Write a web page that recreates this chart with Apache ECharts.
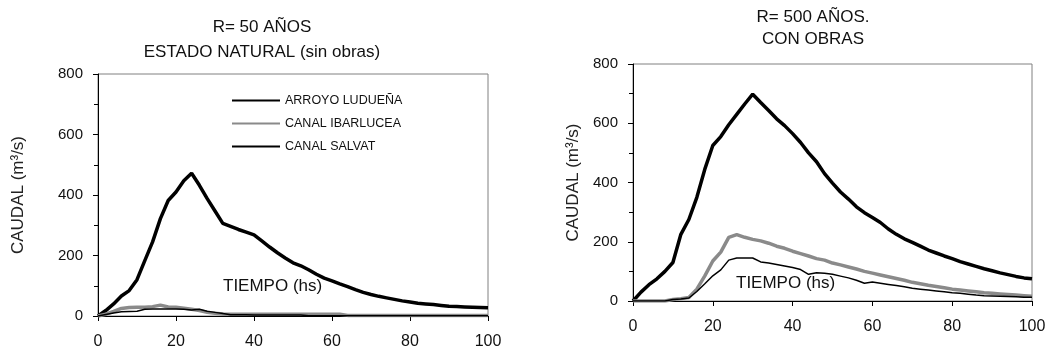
<!DOCTYPE html>
<html>
<head>
<meta charset="utf-8">
<script src="https://cdn.jsdelivr.net/npm/echarts@6/dist/echarts.min.js"></script>
<style>
  html, body { margin: 0; padding: 0; background: #fff; }
  #chart { width: 1051px; height: 352px; }
</style>
</head>
<body>
<div id="chart"></div>
<script>
// horas (eje x), cada 2 hs
var horas = [0,2,4,6,8,10,12,14,16,18,20,22,24,26,28,30,32,34,36,38,40,42,44,46,48,50,
  52,54,56,58,60,62,64,66,68,70,72,74,76,78,80,82,84,86,88,90,92,94,96,98,100];

var nombres = ['ARROYO LUDUEÑA', 'CANAL IBARLUCEA', 'CANAL SALVAT'];
var xTicks = [0, 20, 40, 60, 80, 100];
var yTicks = [0, 200, 400, 600, 800];

// R = 50 años, estado natural
var luduena50 = [0,18,40,66,84,120,183,245,322,382,410,447,472,432,388,347,306,296,286,277,268,
  248,228,209,192,176,166,153,138,125,116,106,97,87,78,71,65,60,55,50,46,42,40,38,35,32,31,30,29,28,27];
var ibarlucea50 = [0,6,15,25,28,29,29,31,36,30,29,26,22,18,12,9,7,6,6,6,6,6,6,6,6,6,
  6,6,6,6,6,6,2,2,2,2,2,2,2,2,2,2,2,2,2,2,2,2,2,2,2];
var salvat50 = [0,5,10,14,15,16,22,23,23,23,23,22,20,22,16,12,8,4,4,4,3,3,3,3,3,3,
  3,1,1,1,1,1,1,1,1,1,1,1,1,1,1,1,1,1,1,1,1,1,1,1,1];

// R = 500 años, con obras
var luduena500 = [0,30,55,75,100,130,225,275,350,445,525,555,595,630,665,698,670,643,615,592,565,
  535,500,470,430,398,368,344,318,298,282,265,243,225,210,198,185,172,162,152,143,133,125,117,109,102,95,89,83,78,75];
var ibarlucea500 = [0,0,0,0,0,5,8,12,40,85,135,165,215,224,215,208,203,195,185,178,168,
  160,152,143,138,128,122,115,108,100,94,88,82,76,70,63,58,53,49,45,40,37,34,31,28,26,24,22,20,18,16];
var salvat500 = [0,0,0,0,0,5,7,10,32,58,85,105,138,145,145,145,132,128,123,118,113,
  106,90,95,94,90,84,78,70,60,64,60,56,52,48,43,40,37,34,31,28,26,23,20,18,17,16,15,14,13,13];

function pares(vals) {
  return horas.map(function (h, i) { return [h, vals[i]]; });
}

var negro = '#000';
var gris = '#8a8a8a';
var fuente = 'Liberation Sans, Arial, sans-serif';

function ejeX(idx) {
  return {
    type: 'value', gridIndex: idx, min: 0, max: 100, interval: 20,
    axisLine: { lineStyle: { color: '#000', width: 1 } },
    axisTick: { show: true, length: 5, lineStyle: { color: '#000' } },
    axisLabel: { color: '#111', fontSize: 16, fontFamily: fuente, margin: 18,
      customValues: xTicks },
    splitLine: { show: false }
  };
}

function ejeY(idx, gap) {
  return {
    type: 'value', gridIndex: idx, min: 0, max: 800, interval: 200,
    name: 'CAUDAL (m³/s)', nameLocation: 'middle', nameGap: gap, nameRotate: 90,
    nameTextStyle: { fontSize: 17, color: '#222', fontFamily: fuente },
    axisLine: { show: true, lineStyle: { color: '#000', width: 1 } },
    axisTick: { show: true, length: 5, lineStyle: { color: '#000' } },
    minorTick: { show: true, splitNumber: 2, length: 4, lineStyle: { color: '#000' } },
    axisLabel: { color: '#111', fontSize: 15, fontFamily: fuente, margin: 15,
      customValues: yTicks },
    splitLine: { show: false }
  };
}

function serie(nombre, idx, vals, color, ancho) {
  return {
    name: nombre, type: 'line', xAxisIndex: idx, yAxisIndex: idx,
    data: pares(vals), showSymbol: false, symbol: 'none',
    lineStyle: { color: color, width: ancho }, itemStyle: { color: color },
    z: ancho > 2 ? 3 : 4
  };
}

var chart = echarts.init(document.getElementById('chart'));
chart.setOption({
  animation: false,
  textStyle: { fontFamily: fuente },
  title: [{
    text: 'R= 50 AÑOS\nESTADO NATURAL (sin obras)',
    left: 257, top: 10, textAlign: 'center',
    textStyle: { fontSize: 17, fontWeight: 'normal', color: '#111', lineHeight: 25, fontFamily: fuente }
  }, {
    text: 'R= 500 AÑOS.\nCON OBRAS',
    left: 808, top: 1, textAlign: 'center',
    textStyle: { fontSize: 17, fontWeight: 'normal', color: '#111', lineHeight: 22, fontFamily: fuente }
  }],
  legend: {
    data: nombres, orient: 'vertical', left: 231, top: 94, padding: 0,
    itemWidth: 48, itemHeight: 14, itemGap: 10, itemStyle: { opacity: 0 },
    textStyle: { fontSize: 12.5, color: '#111', fontFamily: fuente }
  },
  grid: [
    { left: 98, top: 74, width: 390, height: 242, show: true, borderColor: '#808080', borderWidth: 1 },
    { left: 633, top: 64, width: 399, height: 237, show: true, borderColor: '#808080', borderWidth: 1 }
  ],
  xAxis: [ejeX(0), ejeX(1)],
  yAxis: [ejeY(0, 71), ejeY(1, 51)],
  graphic: [
    { type: 'text', left: 223, top: 278, style: { text: 'TIEMPO (hs)', fill: '#111', font: '17px ' + fuente } },
    { type: 'text', left: 736, top: 275, style: { text: 'TIEMPO (hs)', fill: '#111', font: '17px ' + fuente } }
  ],
  series: [
    serie(nombres[0], 0, luduena50, negro, 3.5),
    serie(nombres[1], 0, ibarlucea50, gris, 3.5),
    serie(nombres[2], 0, salvat50, negro, 1.5),
    serie(nombres[0], 1, luduena500, negro, 3.5),
    serie(nombres[1], 1, ibarlucea500, gris, 3.5),
    serie(nombres[2], 1, salvat500, negro, 1.5)
  ]
});
</script>
</body>
</html>
